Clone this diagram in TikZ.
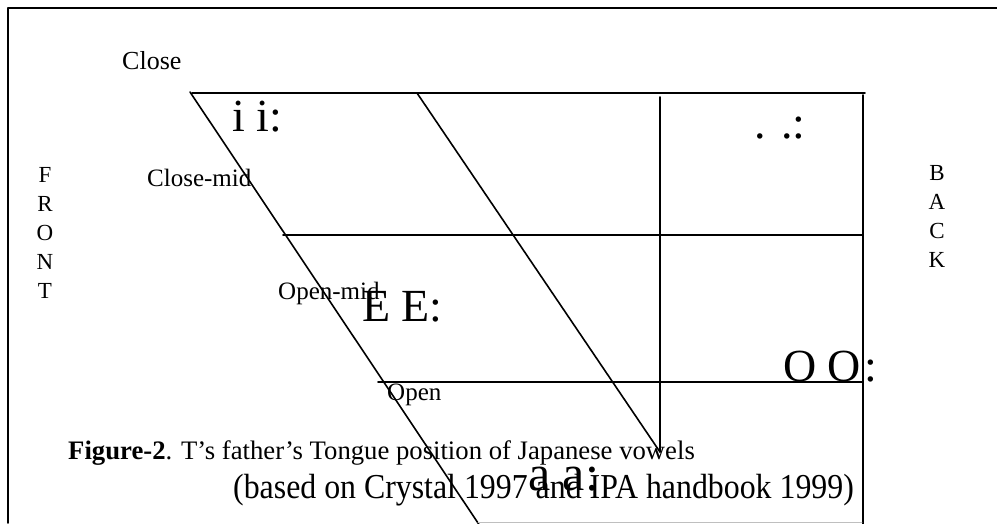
\documentclass[tikz,border=0pt]{standalone}
\usepackage{fontspec}
\setmainfont{Liberation Serif}
\usepackage{tikz}

\begin{document}
\begin{tikzpicture}[
				x=1pt, y=-1pt,
				line cap=round,
				line join=round,
				lbl/.style={font=\fontsize{25}{30}\selectfont, inner sep=0pt},
				side/.style={font=\fontsize{23}{29}\selectfont, align=center, inner sep=0pt},
				vow/.style={font=\fontsize{46}{50}\selectfont, inner sep=0pt, anchor=base west},
				grid/.style={line width=1.6pt}
				]
				\useasboundingbox (0,0) rectangle (997,523);
				% Frame
				\draw[line width=1.6pt] (8,523) -- (8,8) -- (997,8);
				
				% Chart lines
				\draw[grid] (192,93) -- (865,93);
				\draw[grid] (283,235) -- (862,235);
				\draw[grid] (378,382) -- (862,382);
				\draw[grid] (190,92) -- (480,526);
				\draw[grid] (417,93) -- (660,452);
				\draw[grid] (660,97) -- (660,452);
				\draw[grid] (863,95) -- (863,526);
				\draw[line width=0.8pt, black!25] (478,522) -- (862,522);
				
				% Height labels
				\node[lbl, anchor=west, font=\fontsize{26}{30}\selectfont] (close) at (122,61) {Close};
				\node[lbl, anchor=west] (closemid) at (147,178) {Close-mid};
				\node[lbl, anchor=west] (openmid) at (278,293) {Open-mid};
				\node[lbl, anchor=west] (open) at (387,395) {Open};
				
				% Side labels
				\node[side] (front) at (45,233) {F\\R\\O\\N\\T};
				\node[side] (back) at (937,216) {B\\A\\C\\K};
				
				% Vowels
				\node[vow] (vi) at (232,131) {i i:};
				\node[vow] (vu) at (754,138) {. .:};
				\node[vow] (ve) at (362,321) {E E:};
				\node[vow] (vo) at (783,381) {O O\kern3pt:};
				\node[vow, font=\fontsize{50}{54}\selectfont] (va) at (528,490) {a a:};
				
				% Caption
				\node[font=\fontsize{26.7}{31}\selectfont, inner sep=0pt, anchor=base west] (cap) at (68,459) {\textbf{Figure-2}. T's father's Tongue position of Japanese vowels};
				\node[font=\fontsize{35}{40}\selectfont\addfontfeature{FakeStretch=0.91}, inner sep=0pt, anchor=base west] (src) at (233,498) {(based on Crystal 1997 and IPA handbook 1999)};
			\end{tikzpicture}
\end{document}
